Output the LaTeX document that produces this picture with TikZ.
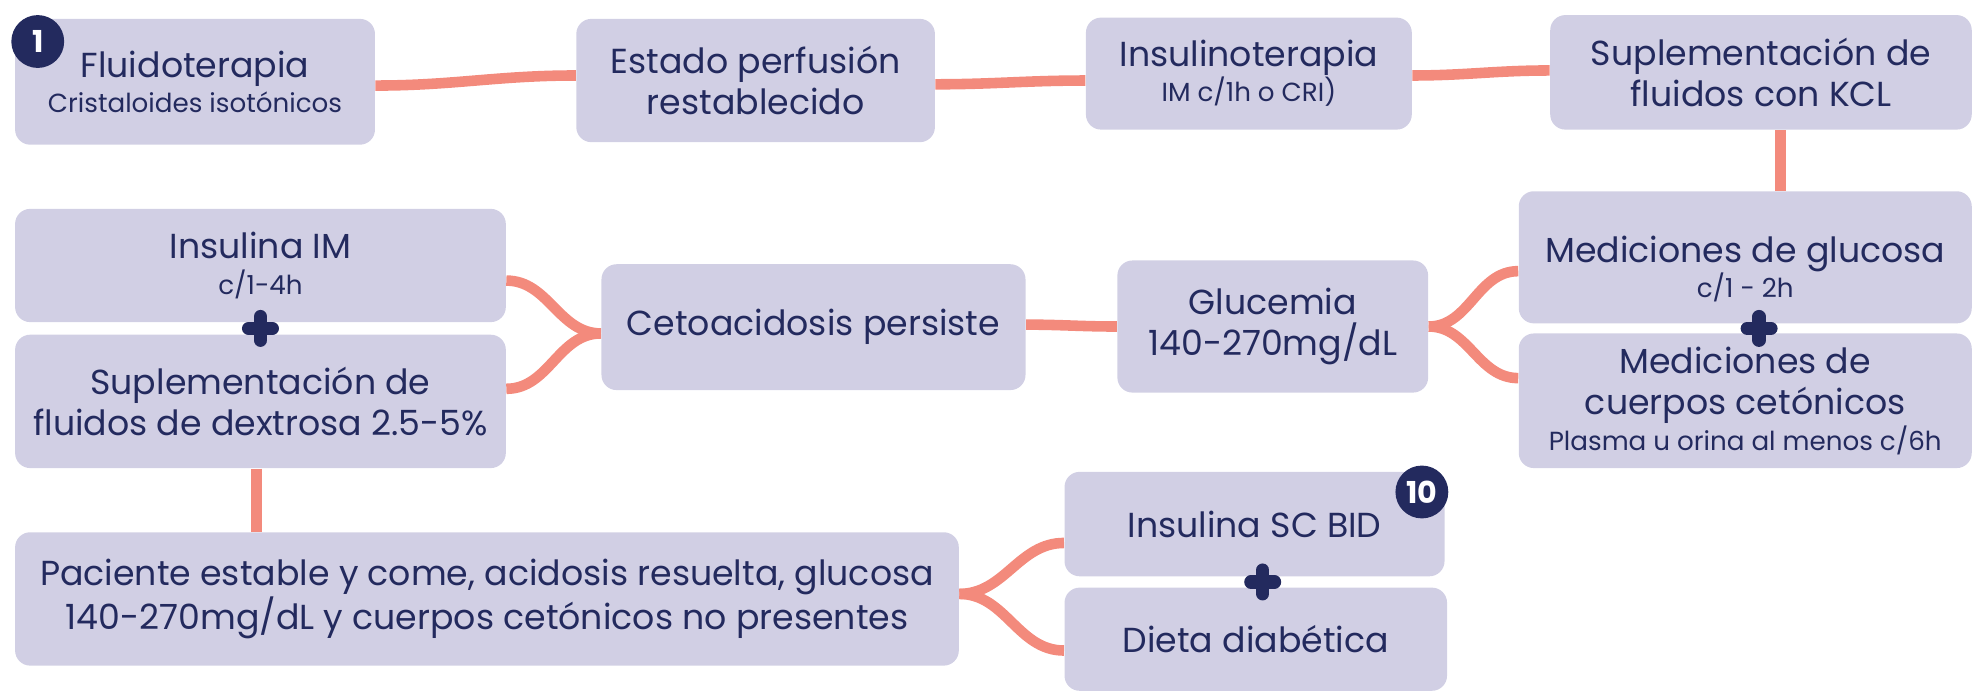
\documentclass[tikz,border=0pt]{standalone}
\usepackage{fontspec}
\setmainfont{Poppins}
\usetikzlibrary{calc}
\definecolor{boxc}{HTML}{D1CFE4}
\definecolor{navy}{HTML}{232A5E}
\definecolor{salmon}{HTML}{F38A7C}
\newcommand\msz{\fontsize{13.8}{16.5}\selectfont}
\newcommand\ssz{\fontsize{10.4}{11}\selectfont}
\pgfdeclarelayer{bg}
\pgfsetlayers{bg,main}
\begin{document}
\begin{tikzpicture}[x=0.5pt,y=-0.5pt,
  box/.style={fill=boxc, rounded corners=6pt, inner sep=0pt, text=navy, align=center, font=\msz},
  conn/.style={draw=salmon, line width=4.2pt},
  plusline/.style={draw=navy, line width=5.3pt, line cap=round},
  badge/.style={circle, fill=navy, text=white, inner sep=0pt, minimum size=21pt, font=\bfseries\fontsize{12}{12}\selectfont}]
\useasboundingbox (0,0) rectangle (1568,549);

% boxes
\node[box, minimum width=143pt, minimum height=50pt] (flu) at (155,65) {Fluidoterapia\\[-2.5pt]{\ssz Cristaloides isotónicos}};
\node[box, minimum width=142.5pt, minimum height=49pt] (est) at (600.5,64) {Estado perfusión\\restablecido};
\node[box, minimum width=129.5pt, minimum height=44.5pt] (ins) at (992.5,58.5) {Insulinoterapia\\[-2.5pt]{\ssz IM c/1h o CRI)}};
\node[box, minimum width=167.5pt, minimum height=45.5pt] (kcl) at (1399.5,57.5) {Suplementación de\\fluidos con KCL};
\node[box, minimum width=180pt, minimum height=52.5pt,
  label={[text=navy, align=center, font=\msz, yshift=-4.5pt]center:Mediciones de glucosa\\[-2.5pt]{\ssz c/1 - 2h}}] (medg) at (1387,204.5) {};
\node[box, minimum width=180pt, minimum height=53.5pt] (cue) at (1387,318.5) {Mediciones de\\cuerpos cetónicos\\[-2.5pt]{\ssz Plasma u orina al menos c/6h}};
\node[box, minimum width=123.5pt, minimum height=52.5pt] (glu) at (1011.5,259.5) {Glucemia\\140-270mg/dL};
\node[box, minimum width=168.5pt, minimum height=50pt] (cet) at (646.5,260) {Cetoacidosis persiste};
\node[box, minimum width=195pt, minimum height=45pt] (im) at (207,211) {Insulina IM\\[-2.5pt]{\ssz c/1-4h}};
\node[box, minimum width=195pt, minimum height=53pt] (dex) at (207,319) {Suplementación de\\fluidos de dextrosa 2.5-5\%};
\node[box, minimum width=375pt, minimum height=53pt] (pac) at (387,476) {Paciente estable y come, acidosis resuelta, glucosa\\140-270mg/dL y cuerpos cetónicos no presentes};
\node[box, minimum width=151pt, minimum height=41.5pt] (sc) at (997,416.5) {Insulina SC BID};
\node[box, minimum width=152pt, minimum height=41pt] (die) at (998,508) {Dieta diabética};

% connectors
\begin{pgfonlayer}{bg}
\draw[conn] ([yshift=-1.5pt]flu.east) to[out=0,in=180] ([yshift=2pt]est.west);
\draw[conn] ([yshift=-1.5pt]est.east) to[out=0,in=180] ([yshift=-2.75pt]ins.west);
\draw[conn] ([yshift=-0.75pt]ins.east) to[out=0,in=180] ([yshift=0.75pt]kcl.west);
\draw[conn] ([xshift=7.75pt]kcl.south) -- ([xshift=14pt]medg.north);
\draw[conn] ([yshift=1pt]cet.east) to[out=0,in=180] (glu.west);
\draw[conn] (glu.east) to[out=0,in=180] ([yshift=-5.5pt]medg.west);
\draw[conn] (glu.east) to[out=0,in=180] ([yshift=9pt]cue.west);
\draw[conn] ([yshift=-2.5pt]cet.west) to[out=180,in=0] ([yshift=-6pt]im.east);
\draw[conn] ([yshift=-2.5pt]cet.west) to[out=180,in=0] ([yshift=5pt]dex.east);
\coordinate (d1) at ([xshift=-1.5pt]dex.south);
\draw[conn] (d1) -- (d1 |- pac.north);
\draw[conn] ([yshift=2pt]pac.east) to[out=0,in=180] ([yshift=-7.5pt]sc.west);
\draw[conn] ([yshift=2pt]pac.east) to[out=0,in=180] ([yshift=-4.5pt]die.west);
\end{pgfonlayer}

% plus signs
\coordinate (p1) at ($(im.south)!0.5!(dex.north)$);
\coordinate (p2) at ($(medg.south)!0.5!(cue.north)+(11,0)$);
\coordinate (p3) at ($(sc.south)!0.5!(die.north)+(6,0)$);
\foreach \p in {p1,p2,p3}{
  \draw[plusline] ([xshift=-4.7pt]\p) -- ([xshift=4.7pt]\p) ([yshift=-4.7pt]\p) -- ([yshift=4.7pt]\p);
}

% badges
\node[badge] (b1) at (30,33) {1};
\node[badge] (b10) at (1130,391) {10};
\end{tikzpicture}
\end{document}
